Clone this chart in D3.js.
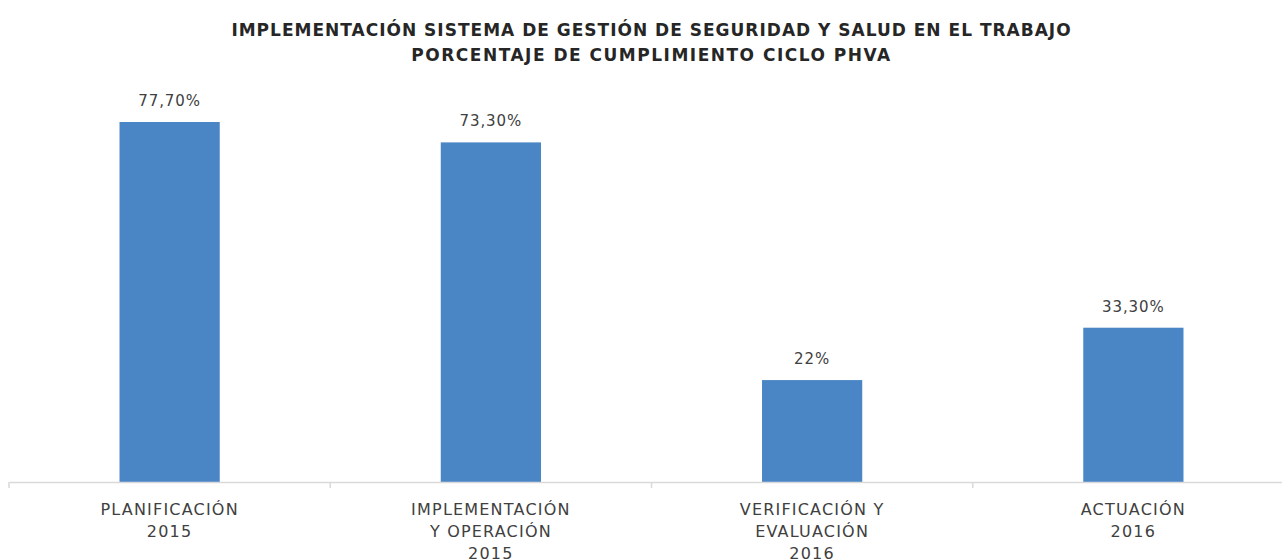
<!DOCTYPE html>
<html>
<head>
<meta charset="utf-8">
<script src="https://cdn.jsdelivr.net/npm/d3@7"></script>
<style>
  body { margin: 0; background: #fff; }
  svg { display: block; font-family: "DejaVu Sans", sans-serif; }
</style>
</head>
<body>
<svg id="chart"></svg>
<script>
// Cumplimiento ciclo PHVA - bar chart

const categories = [
    ["PLANIFICACIÓN", "2015"],
    ["IMPLEMENTACIÓN", "Y OPERACIÓN", "2015"],
    ["VERIFICACIÓN Y", "EVALUACIÓN", "2016"],
    ["ACTUACIÓN", "2016"]
];
const values = [77.7, 73.3, 22, 33.3];
const valueLabels = ["77,70%", "73,30%", "22%", "33,30%"];
const titleLines = [
    "IMPLEMENTACIÓN SISTEMA DE GESTIÓN DE SEGURIDAD Y SALUD EN EL TRABAJO",
    "PORCENTAJE DE CUMPLIMIENTO CICLO PHVA"
];

const svgWidth = 1282;
const svgHeight = 559;

const svg = d3.select("#chart")
    .attr("width", svgWidth)
    .attr("height", svgHeight);

const plotLeft = 9;
const plotRight = 1294;   // plot area runs past the visible edge
const baseline = 482;

const xScale = d3.scaleBand()
    .domain(d3.range(categories.length))
    .range([plotLeft, plotRight])
    .paddingInner(0.688)
    .paddingOuter(0.344);

const xTicks = d3.scaleBand()
    .domain(d3.range(categories.length))
    .range([plotLeft, plotRight]);

const yScale = d3.scaleLinear()
    .domain([0, 90])
    .range([baseline, baseline - 90 * (360 / 77.7)]);

// title
svg.append("g")
    .selectAll("text")
    .data(titleLines)
    .join("text")
    .attr("x", 651.5)
    .attr("y", (d, i) => 36 + i * 25)
    .attr("text-anchor", "middle")
    .attr("font-size", "17px")
    .attr("font-weight", "bold")
    .attr("letter-spacing", (d, i) => i === 0 ? "1px" : "1.5px")
    .attr("fill", "#262626")
    .text(d => d);

// bars
svg.append("g")
    .selectAll("rect")
    .data(values)
    .join("rect")
    .attr("x", (d, i) => xScale(i))
    .attr("y", d => yScale(d))
    .attr("width", xScale.bandwidth())
    .attr("height", d => baseline - yScale(d))
    .attr("fill", "#4a86c6");

// value labels
svg.append("g")
    .selectAll("text")
    .data(values)
    .join("text")
    .attr("x", (d, i) => xScale(i) + xScale.bandwidth() / 2)
    .attr("y", d => yScale(d) - 16)
    .attr("text-anchor", "middle")
    .attr("font-size", "15px")
    .attr("letter-spacing", "0.9px")
    .attr("fill", "#404040")
    .text((d, i) => valueLabels[i]);

// axis line and ticks
const axis = d3.axisBottom(xTicks).tickSize(0).tickFormat("");
const axisG = svg.append("g")
    .attr("transform", `translate(0, ${baseline})`)
    .call(axis);
axisG.select(".domain").attr("stroke", "#d9d9d9").attr("stroke-width", 1.5);

axisG.selectAll(".bound")
    .data(d3.range(categories.length + 1))
    .join("line")
    .attr("class", "bound")
    .attr("x1", i => i < categories.length ? xTicks(i) : plotRight)
    .attr("x2", i => i < categories.length ? xTicks(i) : plotRight)
    .attr("y1", 0)
    .attr("y2", 6)
    .attr("stroke", "#d9d9d9")
    .attr("stroke-width", 1.5);

// category labels
const catG = svg.append("g")
    .selectAll("text")
    .data(categories)
    .join("text")
    .attr("x", (d, i) => xScale(i) + xScale.bandwidth() / 2)
    .attr("y", 515)
    .attr("text-anchor", "middle")
    .attr("font-size", "16px")
    .attr("letter-spacing", "1.2px")
    .attr("fill", "#404040");

catG.selectAll("tspan")
    .data(d => d)
    .join("tspan")
    .attr("x", function() { return d3.select(this.parentNode).attr("x"); })
    .attr("dy", (d, i) => i === 0 ? 0 : 22)
    .text(d => d);
</script>
</body>
</html>
